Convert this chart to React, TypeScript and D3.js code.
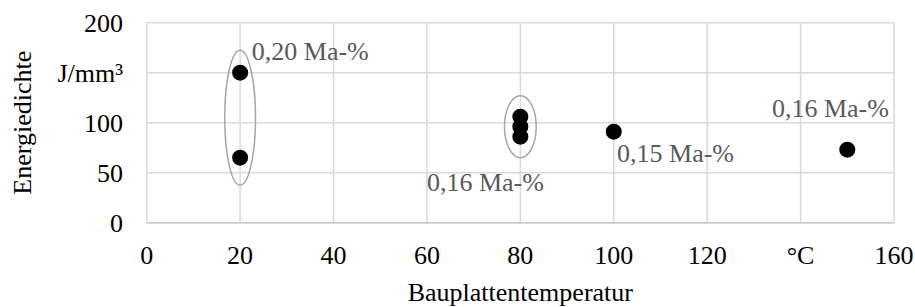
import React from 'react';
import * as d3 from 'd3';

// Messpunkte: Bauplattentemperatur (°C) / Energiedichte (J/mm³)
const temperatures = [20, 20, 80, 80, 80, 100, 150];
const energies = [150, 65, 106, 96, 86, 91, 73];

// Gruppen (Ellipsen) in Datenkoordinaten
const groupCenterX = [20, 80];
const groupCenterY = [105, 96];
const groupRadiusX = [3.3, 3.4];
const groupRadiusY = [67.5, 31];

// Beschriftungen
const labelTexts = ['0,20 Ma-%', '0,16 Ma-%', '0,15 Ma-%', '0,16 Ma-%'];
const labelX = [22.5, 60, 100.7, 158.9];
const labelY = [162.7, 32, 61, 106];
const labelAnchor = ['start', 'start', 'start', 'end'];

const xTicks = [0, 20, 40, 60, 80, 100, 120, 140, 160];
const xTickLabels = ['0', '20', '40', '60', '80', '100', '120', '°C', '160'];
const yTicks = [0, 50, 100, 150, 200];
const yTickLabels = ['0', '50', '100', 'J/mm³', '200'];

const width = 915;
const height = 307;
const font = 'Liberation Serif';

const App = () => {
  const x = d3.scaleLinear().domain([0, 160]).range([146.7, 894]);
  const y = d3.scaleLinear().domain([0, 200]).range([222.7, 22.7]);
  const grid = '#d9d9d9';

  return (
    <div style={{ position: 'absolute', left: 0, top: 0 }}>
      <svg width={width} height={height} style={{ display: 'block', background: '#fff' }}>
        {xTicks.map(t => (
          <line key={'gx' + t} x1={x(t)} x2={x(t)} y1={y(0)} y2={y(200)} stroke={grid} strokeWidth={1.5} />
        ))}
        {yTicks.map(t => (
          <line key={'gy' + t} x1={x(0)} x2={x(160)} y1={y(t)} y2={y(t)} stroke={grid} strokeWidth={1.5} />
        ))}
        <line x1={x(0)} x2={x(160)} y1={y(0)} y2={y(0)} stroke="#c8c8c8" strokeWidth={1.5} />

        {xTicks.map((t, i) => (
          <text key={'xt' + t} x={x(t)} y={y(0) + 41.6} textAnchor="middle"
            fontFamily={font} fontSize={26} fill="#000">{xTickLabels[i]}</text>
        ))}
        {yTicks.map((t, i) => (
          <text key={'yt' + t} x={123} y={y(t) + 9} textAnchor="end"
            fontFamily={font} fontSize={26} fill="#000">{yTickLabels[i]}</text>
        ))}

        <text x={(x(0) + x(160)) / 2} y={301} textAnchor="middle"
          fontFamily={font} fontSize={26} fill="#000">Bauplattentemperatur</text>
        <text transform={`translate(31,${(y(0) + y(200)) / 2}) rotate(-90)`} textAnchor="middle"
          fontFamily={font} fontSize={26} fill="#000">Energiedichte</text>

        {groupCenterX.map((cx, i) => (
          <ellipse key={'e' + i} cx={x(cx)} cy={y(groupCenterY[i])}
            rx={x(cx + groupRadiusX[i]) - x(cx)} ry={y(0) - y(groupRadiusY[i])}
            fill="none" stroke="#a6a6a6" strokeWidth={1.5} />
        ))}

        {temperatures.map((t, i) => (
          <circle key={'p' + i} cx={x(t)} cy={y(energies[i])} r={8} fill="#000" />
        ))}

        {labelTexts.map((s, i) => (
          <text key={'l' + i} x={x(labelX[i])} y={y(labelY[i])}
            textAnchor={labelAnchor[i] as any} fontFamily={font} fontSize={26} fill="#595959">{s}</text>
        ))}
      </svg>
    </div>
  );
};

export default App;
